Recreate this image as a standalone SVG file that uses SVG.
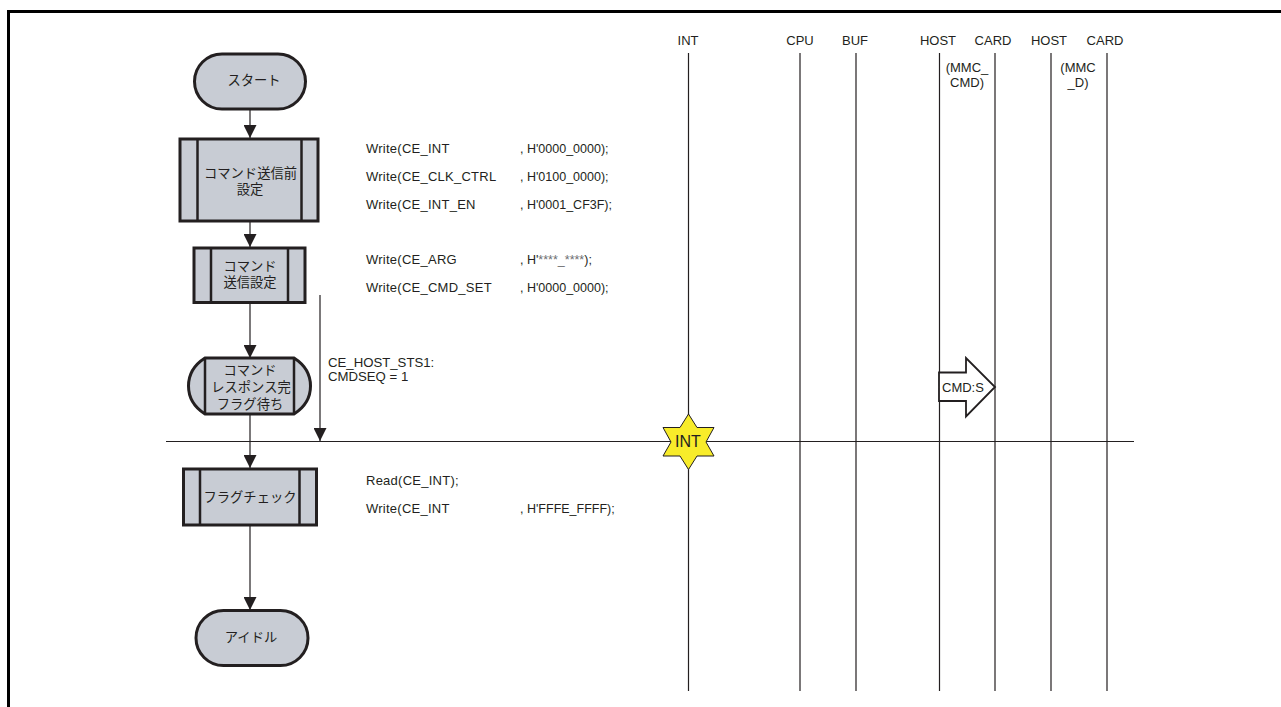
<svg xmlns="http://www.w3.org/2000/svg" width="1281" height="707" viewBox="0 0 1281 707">
<style>
text{font-family:"Liberation Sans","Noto Sans CJK JP",sans-serif;font-size:13px;fill:#231f20}
.c{text-anchor:middle}
.n{fill:#c8ccd4;stroke:#231f20;stroke-width:3}
.i{fill:none;stroke:#231f20;stroke-width:2.500}
.l{stroke:#231f20;stroke-width:1.200;fill:none}
.j{font-size:13.300px}
.v{font-size:12.500px}
.s{font-size:13.200px}
.w{letter-spacing:.25px}
</style>
<defs>
<marker id="a" markerUnits="userSpaceOnUse" markerWidth="14" markerHeight="13" refX="13" refY="6.500" orient="auto"><path d="M0 0L13 6.500L0 13Z" fill="#231f20"/></marker>
</defs>
<rect width="1281" height="707" fill="#fff"/>
<path d="M8.500 707V11.500H1281" fill="none" stroke="#000" stroke-width="3"/>
<g id="connectors">
<path class="l" d="M250 110V138" marker-end="url(#a)"/>
<path class="l" d="M250 221V247" marker-end="url(#a)"/>
<path class="l" d="M250 303V358" marker-end="url(#a)"/>
<path class="l" d="M250 414V468" marker-end="url(#a)"/>
<path class="l" d="M250 526V610" marker-end="url(#a)"/>
<path class="l" d="M320 295V441" marker-end="url(#a)"/>
<path class="l" d="M166 441.500H1134"/>
<path class="l" d="M688.500 53V691M800 53V691M856 53V691M939.500 53V691M995 53V691M1051 53V691M1107 53V691"/>
</g>
<g id="n-start"><rect class="n" x="194.500" y="54" width="111" height="55" rx="27.500"/><text class="c j" x="254" y="85">スタート</text></g>
<g id="n-pre"><rect class="n" x="180" y="139" width="138" height="82"/><path class="i" d="M197.500 139V221M301.500 139V221"/><text class="c j" x="250.500" y="178">コマンド送信前</text><text class="c j" x="250" y="194">設定</text></g>
<g id="n-set"><rect class="n" x="194" y="248" width="111" height="54.500"/><path class="i" d="M211 248V302.500M288 248V302.500"/><text class="c j" x="250" y="271">コマンド</text><text class="c j" x="250" y="287">送信設定</text></g>
<g id="n-wait"><path class="n" d="M205 358H294C316 372 316 400 294 414H205C183 400 183 372 205 358Z"/><path class="i" d="M205 358V414M294 358V414"/><text class="c j" x="250" y="375">コマンド</text><text class="c j" x="251" y="392">レスポンス完</text><text class="c j" x="250" y="409">フラグ待ち</text></g>
<g id="n-check"><rect class="n" x="183.500" y="469" width="133" height="56"/><path class="i" d="M200 469V525M299.500 469V525"/><text class="c j" x="250" y="502">フラグチェック</text></g>
<g id="n-idle"><rect class="n" x="196" y="610.500" width="112" height="55" rx="27.500"/><text class="c j" x="251" y="642">アイドル</text></g>
<g id="n-int"><path d="M688.500 414L697 427.500H714L706 442L714 456H697L688.500 469.500L680 456H663L671 442L663 427.500H680Z" fill="#f8ec2a" stroke="#231f20" stroke-width="1"/><text class="c" x="688" y="447" style="font-size:16px">INT</text></g>
<g id="n-cmd"><path d="M939 372.500H966V358L995 387L966 416.500V401H939Z" fill="#fff" stroke="#231f20" stroke-width="1.800"/><text x="942" y="392">CMD:S</text></g>
<g id="labels">
<text class="w" x="366" y="153">Write(CE_INT</text><text class="v" x="520" y="153">, H'0000_0000);</text>
<text class="w" x="366" y="181">Write(CE_CLK_CTRL</text><text class="v" x="520" y="181">, H'0100_0000);</text>
<text class="w" x="366" y="209">Write(CE_INT_EN</text><text class="v" x="520" y="209">, H'0001_CF3F);</text>
<text class="w" x="366" y="264">Write(CE_ARG</text><text class="v" x="520" y="264">, H'<tspan fill="#6d6e71">****_****</tspan>);</text>
<text class="w" x="366" y="292">Write(CE_CMD_SET</text><text class="v" x="520" y="292">, H'0000_0000);</text>
<text class="s" x="328" y="367">CE_HOST_STS1:</text><text class="s" x="328" y="381">CMDSEQ = 1</text>
<text class="w" x="366" y="485">Read(CE_INT);</text>
<text class="w" x="366" y="513">Write(CE_INT</text><text class="v" x="520" y="513">, H'FFFE_FFFF);</text>
<text class="c" x="688" y="45">INT</text><text class="c" x="800" y="45">CPU</text><text class="c" x="855" y="45">BUF</text>
<text class="c" x="938" y="45">HOST</text><text class="c" x="993" y="45">CARD</text><text class="c" x="1049" y="45">HOST</text><text class="c" x="1105" y="45">CARD</text>
<text class="c" x="967" y="72">(MMC_</text><text class="c" x="967" y="87">CMD)</text>
<text class="c" x="1078" y="72">(MMC</text><text class="c" x="1078" y="87">_D)</text>
</g>
</svg>
